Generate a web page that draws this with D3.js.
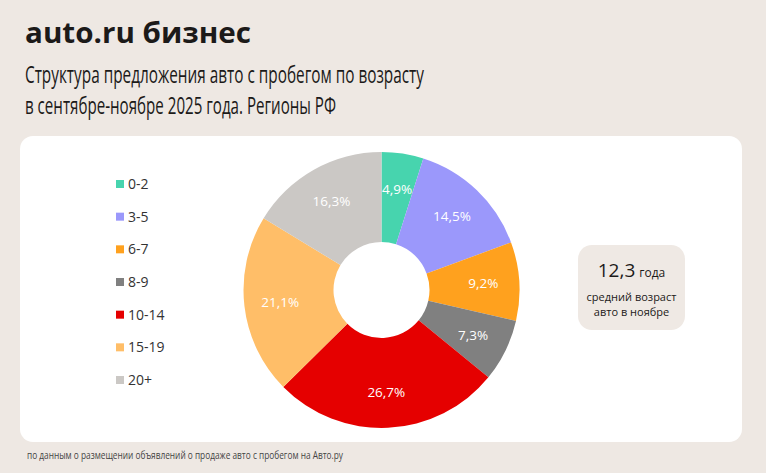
<!DOCTYPE html>
<html>
<head>
<meta charset="utf-8">
<script src="https://cdn.jsdelivr.net/npm/d3@7"></script>
<style>
  html, body { margin: 0; padding: 0; background: #eee8e3; }
  svg { display: block; font-family: "Open Sans", "Noto Sans", sans-serif; }
</style>
</head>
<body>
<svg id="chart" width="766" height="473"></svg>
<script>
// age groups (years) and their share of listings, %
const categories = ["0-2", "3-5", "6-7", "8-9", "10-14", "15-19", "20+"];
const shares = [4.9, 14.5, 9.2, 7.3, 26.7, 21.1, 16.3];
const colors = ["#47d4ae", "#9b98fb", "#ffa11e", "#808080", "#e50000", "#ffbe68", "#cbc8c5"];

const title = "auto.ru бизнес";
const subtitle = ["Структура предложения авто с пробегом по возрасту",
                  "в сентябре-ноябре 2025 года. Регионы РФ"];
const avgAge = "12,3";
const footnote = "по данным о размещении объявлений о продаже авто с пробегом на Авто.ру";

const svg = d3.select("#chart");
const ink = "#1c1a19";

// header
svg.append("text")
    .attr("x", 25).attr("y", 43)
    .attr("font-size", 29).attr("font-weight", 700)
    .attr("fill", ink)
    .attr("textLength", 226).attr("lengthAdjust", "spacingAndGlyphs")
    .text(title);

svg.selectAll("text.sub")
    .data(subtitle)
    .join("text")
    .attr("class", "sub")
    .attr("x", 25)
    .attr("y", (d, i) => 83 + i * 31)
    .attr("font-size", 24)
    .attr("fill", ink)
    .attr("textLength", (d, i) => i === 0 ? 399 : 311)
    .attr("lengthAdjust", "spacingAndGlyphs")
    .text(d => d);

// white card
svg.append("rect")
    .attr("x", 20).attr("y", 136)
    .attr("width", 722).attr("height", 306)
    .attr("rx", 13)
    .attr("fill", "#ffffff");

// legend
const legendY = d3.scalePoint().domain(categories).range([184, 380]);
const legend = svg.append("g")
    .selectAll("g")
    .data(categories)
    .join("g")
    .attr("transform", d => `translate(116,${legendY(d)})`);

legend.append("rect")
    .attr("x", 0).attr("y", -4)
    .attr("width", 8).attr("height", 8)
    .attr("fill", (d, i) => colors[i]);

legend.append("text")
    .attr("x", 12).attr("y", 5)
    .attr("font-size", 14)
    .attr("fill", "#333")
    .text(d => d);

// donut
const cx = 381.5, cy = 290, outerR = 138, innerR = 48;
const pie = d3.pie().sort(null).value(d => d)(shares);
const arc = d3.arc().innerRadius(innerR).outerRadius(outerR);
const labelArc = d3.arc().innerRadius(64).outerRadius(140);
const fmt = v => d3.format(".1f")(v).replace(".", ",") + "%";

const donut = svg.append("g").attr("transform", `translate(${cx},${cy})`);

donut.selectAll("path")
    .data(pie)
    .join("path")
    .attr("d", arc)
    .attr("fill", (d, i) => colors[i]);

donut.selectAll("text")
    .data(pie)
    .join("text")
    .attr("transform", d => `translate(${labelArc.centroid(d)})`)
    .attr("text-anchor", "middle")
    .attr("dy", "0.35em")
    .attr("font-size", 13.5)
    .attr("fill", "#ffffff")
    .text(d => fmt(d.data));

// info box
const info = svg.append("g").attr("transform", "translate(578,245)");
info.append("rect")
    .attr("width", 107).attr("height", 85)
    .attr("rx", 14)
    .attr("fill", "#efe9e4");

const big = info.append("text")
    .attr("x", 53.5).attr("y", 32)
    .attr("text-anchor", "middle")
    .attr("fill", ink);
big.append("tspan").attr("font-size", 19).text(avgAge);
big.append("tspan").attr("font-size", 12).attr("dx", 4).text("года");

info.selectAll("text.cap")
    .data(["средний возраст", "авто в ноябре"])
    .join("text")
    .attr("class", "cap")
    .attr("x", 53.5)
    .attr("y", (d, i) => 56 + i * 15)
    .attr("text-anchor", "middle")
    .attr("font-size", 11)
    .attr("fill", ink)
    .text(d => d);

// footnote
svg.append("text")
    .attr("x", 27).attr("y", 459)
    .attr("font-size", 10)
    .attr("fill", "#444")
    .attr("textLength", 316).attr("lengthAdjust", "spacingAndGlyphs")
    .text(footnote);
</script>
</body>
</html>
